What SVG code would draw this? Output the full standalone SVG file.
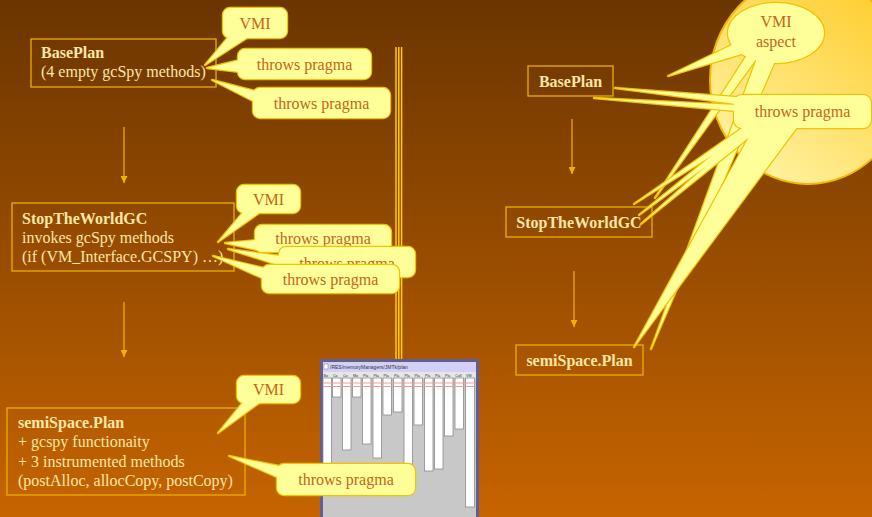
<svg xmlns="http://www.w3.org/2000/svg" width="872" height="517" viewBox="0 0 872 517">
<style>
.bx{fill:none;stroke:#e8b000;stroke-width:1.3}
.nt{font-family:"Liberation Serif","Times New Roman",serif;font-size:16px;fill:#fae6a6}
.b{font-weight:bold}
.ct{font-family:"Liberation Serif","Times New Roman",serif;font-size:16px;fill:#c4661c;text-anchor:middle}
.cs{fill:#f2c200;stroke:#f2c200;stroke-width:2.4;stroke-linejoin:round}
.cf{fill:#ffff99;stroke:none}
.ar{stroke:#f0b400;stroke-width:1.2;fill:none}
.bar{fill:#ffffff;stroke:#8c8c8c;stroke-width:0.8}
.hl{font-family:"Liberation Sans",Arial,sans-serif;font-size:3.6px;fill:#333}
</style>
<defs>
<linearGradient id="bg" x1="0" y1="0" x2="0" y2="1">
<stop offset="0" stop-color="#6b3500"/>
<stop offset="1" stop-color="#c66400"/>
</linearGradient>
<linearGradient id="sun" x1="1" y1="0" x2="0.3" y2="1">
<stop offset="0" stop-color="#ffc820"/>
<stop offset="1" stop-color="#fff2a0"/>
</linearGradient>
<marker id="ah" viewBox="0 0 10 10" refX="10" refY="5" markerWidth="7" markerHeight="7" markerUnits="userSpaceOnUse" orient="auto">
<path d="M0,0 L10,5 L0,10 z" fill="#f0b400"/>
</marker>
<g id="s_vmi1"><rect x="223" y="8" width="64" height="30" rx="7"/><polygon points="229,36 205,65 250,36"/></g>
<g id="s_tp1"><rect x="238" y="49" width="133" height="30" rx="7"/><polygon points="240,60 207,68 240,72"/></g>
<g id="s_tp2"><rect x="253" y="88" width="137" height="30" rx="7"/><polygon points="255,91 212,80 255,102"/></g>
<g id="s_vmi2"><rect x="237" y="185" width="63" height="28" rx="7"/><polygon points="244,211 218,242 262,211"/></g>
<g id="s_tp3"><rect x="255" y="225" width="136" height="27" rx="7"/><polygon points="257,240 225,243 257,250"/></g>
<g id="s_tp4"><rect x="279" y="247" width="136" height="30" rx="7"/><polygon points="281,256 228,249 281,266"/></g>
<g id="s_tp5"><rect x="262" y="265" width="137" height="28" rx="7"/><polygon points="264,268 213,256 264,279"/></g>
<g id="s_vmi3"><rect x="237" y="376" width="63" height="27" rx="7"/><polygon points="244,401 218,433 262,401"/></g>
<g id="s_tp6"><rect x="277" y="464" width="138" height="31" rx="7"/><polygon points="279,466 229,456 279,478"/></g>
<g id="s_asp"><ellipse cx="776" cy="33" rx="48" ry="30"/><polygon points="734,44 668,76 745,53"/><polygon points="747,55 655,198 757,58"/><polygon points="757,58 651,349 775,61"/></g>
<g id="s_tpr"><rect x="734" y="95" width="137" height="33" rx="8"/><polygon points="736,97 615,88 736,104"/><polygon points="736,105 594,98 736,111"/><polygon points="745,126 634,204 758,127"/><polygon points="748,126 639,215 760,127"/><polygon points="751,126 641,224 762,127"/><polygon points="755,126 634,347 798,126"/></g>
</defs>

<rect x="0" y="0" width="872" height="517" fill="url(#bg)"/>

<ellipse id="sun-shape" cx="808" cy="80" rx="98" ry="104" fill="url(#sun)" stroke="#f5b800" stroke-width="2"/>

<g id="divider" stroke="#ffcc00" stroke-width="1.5">
<line x1="396" y1="47" x2="396" y2="360"/>
<line x1="398.8" y1="47" x2="398.8" y2="360"/>
<line x1="401.6" y1="47" x2="401.6" y2="360"/>
</g>

<g id="screenshot">
<rect x="321.5" y="360.5" width="156" height="170" fill="#c8c8c8" stroke="#5f5e96" stroke-width="3"/>
<rect x="323" y="362" width="153" height="10" fill="#d2d0f6"/>
<rect x="324" y="364" width="4" height="5" fill="#fff" stroke="#777" stroke-width="0.5"/>
<text x="330" y="369" font-family="Liberation Sans, Arial, sans-serif" font-size="5" fill="#333">/RES/memoryManagers/JMTk/plan</text>
<rect x="323" y="372" width="153" height="6" fill="#e6e6e6"/>
<rect class="bar" x="323" y="378" width="8.5" height="92"/>
<rect class="bar" x="332.5" y="378" width="8.5" height="19"/>
<rect class="bar" x="342.5" y="378" width="8.5" height="72"/>
<rect class="bar" x="352.5" y="378" width="8.5" height="19"/>
<rect class="bar" x="362.5" y="378" width="8.5" height="66"/>
<rect class="bar" x="373" y="378" width="8.5" height="80"/>
<rect class="bar" x="383" y="378" width="8.5" height="37"/>
<rect class="bar" x="393.5" y="378" width="8.5" height="34"/>
<rect class="bar" x="404" y="378" width="8.5" height="87"/>
<rect class="bar" x="414" y="378" width="8.5" height="47"/>
<rect class="bar" x="424.5" y="378" width="8.5" height="93"/>
<rect class="bar" x="434.5" y="378" width="8.5" height="91"/>
<rect class="bar" x="444.5" y="378" width="8.5" height="58"/>
<rect class="bar" x="455" y="378" width="8.5" height="51"/>
<rect class="bar" x="465.5" y="378" width="9" height="129"/>
<g class="hl">
<text x="323.5" y="376.5">Bo</text><text x="333" y="376.5">Co</text><text x="343" y="376.5">Co</text><text x="353" y="376.5">Mo</text><text x="363" y="376.5">Pla</text><text x="373.5" y="376.5">Pla</text><text x="383.5" y="376.5">Pla</text><text x="394" y="376.5">Pla</text><text x="404.5" y="376.5">Pla</text><text x="414.5" y="376.5">Pla</text><text x="425" y="376.5">Pla</text><text x="435" y="376.5">Pla</text><text x="445" y="376.5">Pla</text><text x="455.3" y="376.5">Coll</text><text x="466" y="376.5">VM</text>
</g>
<line x1="323" y1="383" x2="476" y2="383" stroke="#f09a9a" stroke-width="1"/>
<line x1="323" y1="386.5" x2="476" y2="386.5" stroke="#f09a9a" stroke-width="1"/>
</g>

<g id="connectors">
<line class="ar" x1="124" y1="127" x2="124" y2="183" marker-end="url(#ah)"/>
<line class="ar" x1="124" y1="302" x2="124" y2="357" marker-end="url(#ah)"/>
<line class="ar" x1="572" y1="119" x2="572" y2="174" marker-end="url(#ah)"/>
<line class="ar" x1="574" y1="271" x2="574" y2="327" marker-end="url(#ah)"/>
</g>

<g id="left-baseplan">
<rect class="bx" x="31" y="39" width="185" height="48"/>
<text class="nt b" x="41" y="58">BasePlan</text>
<text class="nt" x="41" y="77">(4 empty gcSpy methods)</text>
</g>
<g id="left-stopworld">
<rect class="bx" x="12" y="203" width="222" height="68"/>
<text class="nt b" x="22" y="224">StopTheWorldGC</text>
<text class="nt" x="22" y="243">invokes gcSpy methods</text>
<text class="nt" x="22" y="262">(if (VM_Interface.GCSPY) …)</text>
</g>
<g id="left-semispace">
<rect class="bx" x="7" y="408" width="238" height="87"/>
<text class="nt b" x="18" y="428">semiSpace.Plan</text>
<text class="nt" x="18" y="447">+ gcspy functionaity</text>
<text class="nt" x="18" y="467">+ 3 instrumented methods</text>
<text class="nt" x="18" y="486">(postAlloc, allocCopy, postCopy)</text>
</g>
<g id="right-baseplan">
<rect class="bx" x="528" y="66" width="85" height="30"/>
<text class="nt b" x="570.5" y="86.5" text-anchor="middle">BasePlan</text>
</g>
<g id="right-stopworld">
<rect class="bx" x="506" y="207" width="146" height="30"/>
<text class="nt b" x="579" y="228" text-anchor="middle">StopTheWorldGC</text>
</g>
<g id="right-semispace">
<rect class="bx" x="516" y="345" width="127" height="30"/>
<text class="nt b" x="579.5" y="365.5" text-anchor="middle">semiSpace.Plan</text>
</g>

<g id="callout-vmi-1"><use href="#s_vmi1" class="cs"/><use href="#s_vmi1" class="cf"/><text class="ct" x="255" y="28.5">VMI</text></g>
<g id="callout-pragma-1"><use href="#s_tp1" class="cs"/><use href="#s_tp1" class="cf"/><text class="ct" x="304.5" y="69.5">throws pragma</text></g>
<g id="callout-pragma-2"><use href="#s_tp2" class="cs"/><use href="#s_tp2" class="cf"/><text class="ct" x="321.5" y="108.5">throws pragma</text></g>
<g id="callout-vmi-2"><use href="#s_vmi2" class="cs"/><use href="#s_vmi2" class="cf"/><text class="ct" x="268.5" y="204.5">VMI</text></g>
<g id="callout-pragma-3"><use href="#s_tp3" class="cs"/><use href="#s_tp3" class="cf"/><text class="ct" x="323" y="244">throws pragma</text></g>
<g id="callout-pragma-4"><use href="#s_tp4" class="cs"/><use href="#s_tp4" class="cf"/><text class="ct" x="347" y="268.5">throws pragma</text></g>
<g id="callout-pragma-5"><use href="#s_tp5" class="cs"/><use href="#s_tp5" class="cf"/><text class="ct" x="330.5" y="284.5">throws pragma</text></g>
<g id="callout-vmi-3"><use href="#s_vmi3" class="cs"/><use href="#s_vmi3" class="cf"/><text class="ct" x="268.5" y="395">VMI</text></g>
<g id="callout-pragma-6"><use href="#s_tp6" class="cs"/><use href="#s_tp6" class="cf"/><text class="ct" x="346" y="485">throws pragma</text></g>

<g id="callout-vmi-aspect"><use href="#s_asp" class="cs"/><use href="#s_asp" class="cf"/><text class="ct" x="776" y="27">VMI</text><text class="ct" x="776" y="47">aspect</text></g>
<g id="callout-pragma-right"><use href="#s_tpr" class="cs"/><use href="#s_tpr" class="cf"/><text class="ct" x="802.5" y="117">throws pragma</text></g>
</svg>
